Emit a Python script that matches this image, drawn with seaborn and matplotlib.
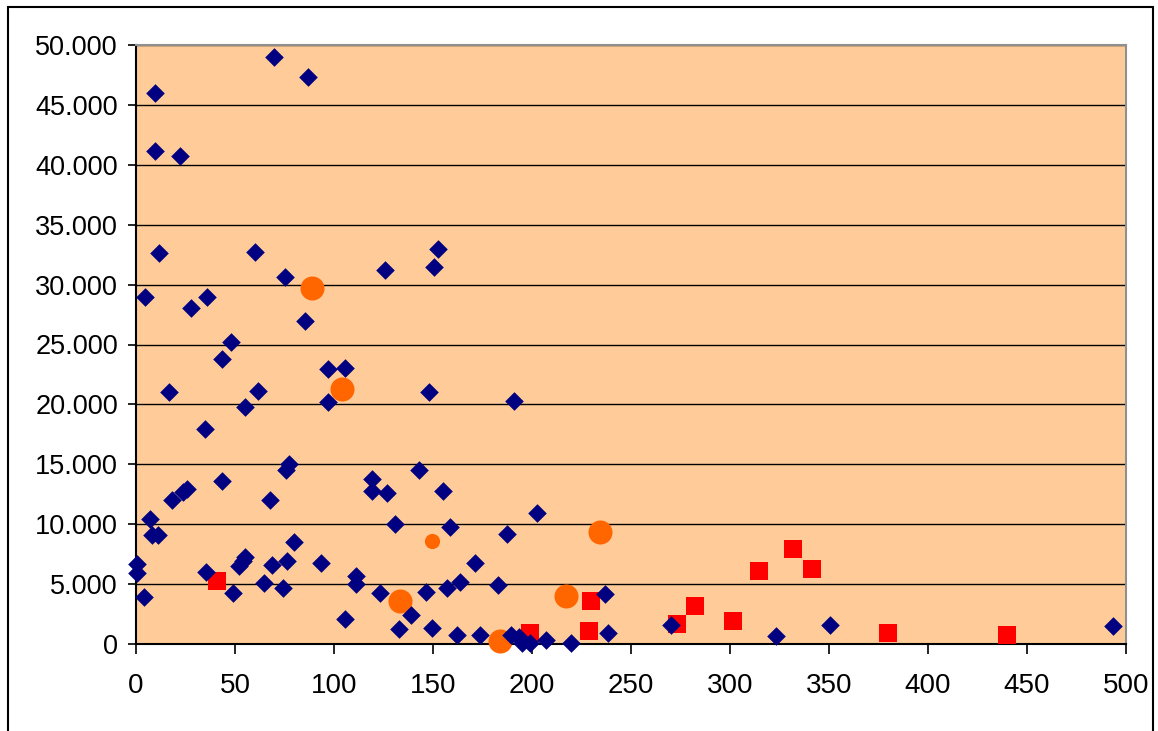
import numpy as np
import pandas as pd
import matplotlib
matplotlib.use("Agg")
import matplotlib.pyplot as plt
import seaborn as sns
from matplotlib.patches import Rectangle
from matplotlib.ticker import FuncFormatter, MultipleLocator

# navy diamonds
diamond_x = [0.5, 0.5, 4.2, 4.7, 7, 8, 11, 9.6, 9.6, 11.8, 16.6, 18, 22.4, 23.5, 25.6,
             27.8, 34.6, 35.6, 36, 43.4, 43.4, 48.1, 49.1, 52.1, 54.2, 55.3, 55.3, 60.3,
             61.6, 64.6, 67.6, 68.8, 69.7, 74.2, 75.4, 76, 76.5, 77.2, 79.7, 85.5, 86.9,
             93.3, 97, 97, 105.8, 105.8, 111, 111.3, 119.2, 119.2, 123.4, 125.6, 126.8,
             130.8, 132.7, 138.9, 142.8, 146.7, 147.8, 149.5, 150.5, 152.5, 155, 157.2,
             158.4, 162.3, 163.5, 171, 173.5, 182.8, 187.4, 189.4, 191, 193.3, 195, 199.2,
             202.3, 207, 219.6, 237, 238.2, 270.4, 323.2, 350.5, 493.2]
diamond_y = [6700, 5900, 3900, 29000, 10450, 9100, 9100, 46000, 41150, 32600, 21050, 12000,
             40700, 12650, 12900, 28050, 17950, 6050, 28950, 23750, 13600, 25200, 4250, 6550,
             6950, 7300, 19800, 32700, 21150, 5100, 12000, 6600, 49000, 4700, 30650, 14550,
             6950, 15000, 8550, 26950, 47300, 6750, 22950, 20200, 23050, 2100, 5700, 5000,
             13800, 12800, 4250, 31200, 12600, 10050, 1250, 2450, 14500, 4300, 21000, 1300,
             31450, 33000, 12800, 4700, 9800, 750, 5200, 6800, 750, 4950, 9150, 780, 20300,
             550, 100, 100, 10900, 350, 100, 4200, 900, 1550, 650, 1550, 1480]

# orange circles (large and one small)
orange_x = [88.9, 103.8, 133.2, 184, 217.3, 234.4]
orange_y = [29700, 21250, 3550, 250, 4000, 9350]
orange_small_x = [149.7]
orange_small_y = [8600]

# red squares
red_x = [41, 198.8, 229, 229.8, 273.2, 282.3, 301.4, 314.5, 331.6, 341.4, 379.8, 439.7]
red_y = [5280, 950, 1080, 3550, 1650, 3200, 1900, 6070, 7900, 6230, 900, 780]

diamonds = pd.DataFrame({"x": diamond_x, "y": diamond_y})
orange = pd.DataFrame({"x": orange_x, "y": orange_y})
orange_small = pd.DataFrame({"x": orange_small_x, "y": orange_small_y})
red = pd.DataFrame({"x": red_x, "y": red_y})

sns.set_style("white")
plt.rcParams['font.family'] = ['Liberation Sans', 'DejaVu Sans']

fig = plt.figure(figsize=(11.58, 7.31), dpi=100)
ax = fig.add_axes([136 / 1158, 1 - 644 / 731, 990 / 1158, 599 / 731])
ax.set_facecolor("#FFCC99")

# outer chart border
fig.patches.append(Rectangle((8 / 1158, -0.05), 1145 / 1158, 1.05 - 7 / 731,
                             transform=fig.transFigure, fill=False,
                             edgecolor="black", linewidth=1.5))

sns.scatterplot(data=orange, x="x", y="y", ax=ax, marker="o", s=300,
                color="#FF6600", linewidth=0, clip_on=False, zorder=3)
sns.scatterplot(data=orange_small, x="x", y="y", ax=ax, marker="o", s=120,
                color="#FF6600", linewidth=0, clip_on=False, zorder=3)
sns.scatterplot(data=red, x="x", y="y", ax=ax, marker="s", s=150,
                color="#FF0000", linewidth=0, clip_on=False, zorder=4)
sns.scatterplot(data=diamonds, x="x", y="y", ax=ax, marker="D", s=90,
                color="#000080", linewidth=0, clip_on=False, zorder=5)

ax.set_xlim(0, 500)
ax.set_ylim(0, 50000)
ax.xaxis.set_major_locator(MultipleLocator(50))
ax.yaxis.set_major_locator(MultipleLocator(5000))
ax.yaxis.set_major_formatter(FuncFormatter(
    lambda v, p: "0" if v == 0 else f"{int(v):,}".replace(",", ".")))

ax.grid(axis="y", color="black", linewidth=1.0)
ax.grid(axis="x", visible=False)
ax.set_axisbelow(True)
ax.set_xlabel("")
ax.set_ylabel("")

for side in ["left", "bottom"]:
    ax.spines[side].set_color("black")
    ax.spines[side].set_linewidth(1.5)
for side in ["top", "right"]:
    ax.spines[side].set_color("#909090")
    ax.spines[side].set_linewidth(1.5)

ax.tick_params(axis="y", direction="out", length=6, width=1.2, pad=7,
               labelsize=19.5, left=True, colors="black")
ax.tick_params(axis="x", direction="out", length=7, width=1.2, pad=14,
               labelsize=20, bottom=True, colors="black")

fig.savefig("out.png", dpi=100)
